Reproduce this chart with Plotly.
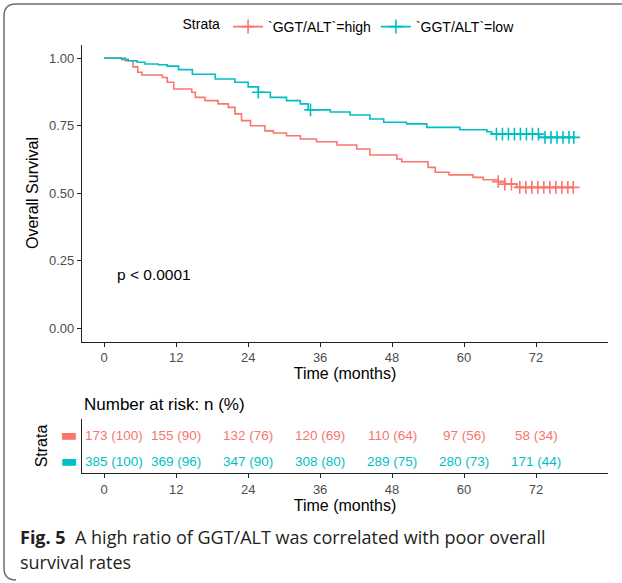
import numpy as np
import plotly.graph_objects as go

# ---------------- data ----------------
high_time = [0, 3.5, 4.8, 5.6, 6.3, 9.7, 10.5, 11.6, 14.6, 15.2, 16.8, 19.0, 20.7, 21.8, 22.9,
             24.4, 26.8, 28.2, 30.4, 32.7, 35.4, 38.8, 42.1, 44.3, 48.8, 49.6, 54.0, 55.2,
             57.5, 61.5, 63.2, 65.7, 66.8, 68.8]
high_surv = [1.0, 0.99, 0.967, 0.947, 0.937, 0.928, 0.91, 0.885, 0.873, 0.854, 0.842, 0.83,
             0.817, 0.793, 0.768, 0.749, 0.73, 0.722, 0.712, 0.70, 0.69, 0.678, 0.663, 0.641,
             0.626, 0.616, 0.595, 0.577, 0.567, 0.558, 0.549, 0.542, 0.533, 0.521]
high_censor = [65.7, 66.8, 67.9, 69.3, 70.3, 71.3, 72.3, 73.3, 74.3, 75.3, 76.3, 77.3, 78.2]

low_time = [0, 2.9, 4.0, 5.5, 6.8, 9.0, 10.5, 12.4, 14.7, 18.5, 21.8, 24.0, 25.7, 27.7, 30.4,
            32.7, 34.0, 37.7, 41.0, 44.3, 46.6, 50.4, 53.8, 59.3, 63.8, 64.6, 72.5]
low_surv = [1.0, 0.995, 0.99, 0.984, 0.978, 0.975, 0.97, 0.957, 0.94, 0.922, 0.91, 0.893,
            0.873, 0.854, 0.842, 0.83, 0.808, 0.80, 0.789, 0.774, 0.762, 0.756, 0.743, 0.734,
            0.727, 0.718, 0.706]
low_censor = [25.7, 34.4, 65.4, 66.4, 67.4, 68.4, 69.4, 70.4, 71.4, 72.4, 73.5, 74.5, 75.5,
              76.5, 77.5, 78.3]
end_time = 78.3

risk_times = [0, 12, 24, 36, 48, 60, 72]
risk_high = ["173 (100)", "155 (90)", "132 (76)", "120 (69)", "110 (64)", "97 (56)", "58 (34)"]
risk_low = ["385 (100)", "369 (96)", "347 (90)", "308 (80)", "289 (75)", "280 (73)", "171 (44)"]

y_ticks = [0, 0.25, 0.5, 0.75, 1.0]
y_ticktext = ["0.00", "0.25", "0.50", "0.75", "1.00"]

RED = "#F8766D"
TEAL = "#00BFC4"
FONT = "Liberation Sans, Arial, sans-serif"
W, H = 622, 583


def step_value(times, surv, t):
    idx = np.searchsorted(np.array(times), t, side="right") - 1
    return float(np.array(surv)[idx])


fig = go.Figure()

for times, surv, cens, col, name in [
    (high_time, high_surv, high_censor, RED, "`GGT/ALT`=high"),
    (low_time, low_surv, low_censor, TEAL, "`GGT/ALT`=low"),
]:
    fig.add_trace(go.Scatter(
        x=list(times) + [end_time], y=list(surv) + [surv[-1]],
        mode="lines", line=dict(color=col, width=1.6, shape="hv"),
        showlegend=False, hoverinfo="skip", xaxis="x", yaxis="y"))
    fig.add_trace(go.Scatter(
        x=cens, y=[step_value(times, surv, c) for c in cens],
        mode="markers",
        marker=dict(symbol="cross-thin", size=9, line=dict(color=col, width=1.6)),
        showlegend=False, hoverinfo="skip", xaxis="x", yaxis="y"))
    # legend entry
    fig.add_trace(go.Scatter(
        x=[None], y=[None], mode="lines+markers", name=name,
        line=dict(color=col, width=1.6),
        marker=dict(symbol="cross-thin", size=10, line=dict(color=col, width=1.6)),
        xaxis="x", yaxis="y"))

# risk table invisible anchor trace
fig.add_trace(go.Scatter(x=risk_times, y=[1.5] * len(risk_times), mode="markers",
                         marker=dict(opacity=0), showlegend=False, hoverinfo="skip",
                         xaxis="x2", yaxis="y2"))

annotations = []
for i, (t, txt) in enumerate(zip(risk_times, risk_high)):
    annotations.append(dict(x=t, y=2, xref="x2", yref="y2", text=txt, showarrow=False,
                            xshift=10 if i == 0 else 0,
                            font=dict(family=FONT, size=13.5, color=RED)))
for i, (t, txt) in enumerate(zip(risk_times, risk_low)):
    annotations.append(dict(x=t, y=1, xref="x2", yref="y2", text=txt, showarrow=False,
                            xshift=10 if i == 0 else 0,
                            font=dict(family=FONT, size=13.5, color=TEAL)))

annotations.append(dict(x=1.8, y=0.2, xref="x", yref="y", text="p < 0.0001", showarrow=False,
                        xanchor="left", font=dict(family=FONT, size=15.5, color="black")))
annotations.append(dict(x=82 / W, y=1 - 404 / H, xref="paper", yref="paper",
                        text="Number at risk: n (%)", showarrow=False, xanchor="left",
                        yanchor="middle", font=dict(family=FONT, size=17, color="black")))
annotations.append(dict(x=18 / W, y=1 - 537 / H, xref="paper", yref="paper",
                        text="<b>Fig. 5</b>  A high ratio of GGT/ALT was correlated with poor overall",
                        showarrow=False, xanchor="left", yanchor="middle",
                        font=dict(family="Open Sans, sans-serif", size=18, color="#231F20")))
annotations.append(dict(x=18 / W, y=1 - 562 / H, xref="paper", yref="paper",
                        text="survival rates",
                        showarrow=False, xanchor="left", yanchor="middle",
                        font=dict(family="Open Sans, sans-serif", size=18, color="#231F20")))

x_dom = [82 / W, 608 / W]
x_range = [-3.7, 84]
axis_common = dict(showline=True, linecolor="#222", linewidth=1.1, ticks="outside",
                   ticklen=4, tickcolor="#222", showgrid=False, zeroline=False,
                   tickfont=dict(family=FONT, size=13, color="#4D4D4D"))
title_font = dict(family=FONT, size=16, color="black")

fig.update_layout(
    width=W, height=H, margin=dict(l=0, r=0, t=0, b=0),
    paper_bgcolor="white", plot_bgcolor="white",
    font=dict(family=FONT),
    xaxis=dict(domain=x_dom, range=x_range, tickvals=risk_times, anchor="y",
               title=dict(text="Time (months)", font=title_font, standoff=1),
               **axis_common),
    yaxis=dict(domain=[1 - 341.5 / H, 1 - 44.5 / H], range=[-0.05, 1.05], anchor="x",
               tickvals=y_ticks, ticktext=y_ticktext,
               title=dict(text="Overall Survival", font=title_font, standoff=6),
               **axis_common),
    xaxis2=dict(domain=x_dom, range=x_range, tickvals=risk_times, anchor="y2",
                title=dict(text="Time (months)", font=title_font, standoff=1),
                **axis_common),
    yaxis2=dict(domain=[1 - 473 / H, 1 - 419 / H], range=[0.54, 2.62], anchor="x2",
                tickvals=[1, 2],
                ticktext=[f"<span style='color:{TEAL}'>▬</span>",
                          f"<span style='color:{RED}'>▬</span>"],
                title=dict(text="Strata", font=title_font, standoff=8),
                **{**axis_common, "tickfont": dict(family="DejaVu Sans", size=18, color="#4D4D4D"),
                   "ticks": ""}),
    legend=dict(orientation="h", x=350 / W, xanchor="center", y=1 - 27 / H, yanchor="middle",
                title=dict(text="Strata", side="left", font=dict(family=FONT, size=14, color="black")),
                font=dict(family=FONT, size=14, color="black"),
                bgcolor="rgba(0,0,0,0)", itemwidth=30),
    annotations=annotations,
    shapes=[dict(type="path", xref="paper", yref="paper",
                 path=(f"M 1,{1 - 4 / H} L {16 / W},{1 - 4 / H} "
                       f"Q {4 / W},{1 - 4 / H} {4 / W},{1 - 16 / H} "
                       f"L {4 / W},{1 - 568 / H} Q {4 / W},{1 - 580 / H} {16 / W},{1 - 580 / H}"),
                 line=dict(color="#6E6E6E", width=1.5))],
)

fig.write_html("out.html", config={"displayModeBar": False},
               post_script="document.body.style.margin='0';")
